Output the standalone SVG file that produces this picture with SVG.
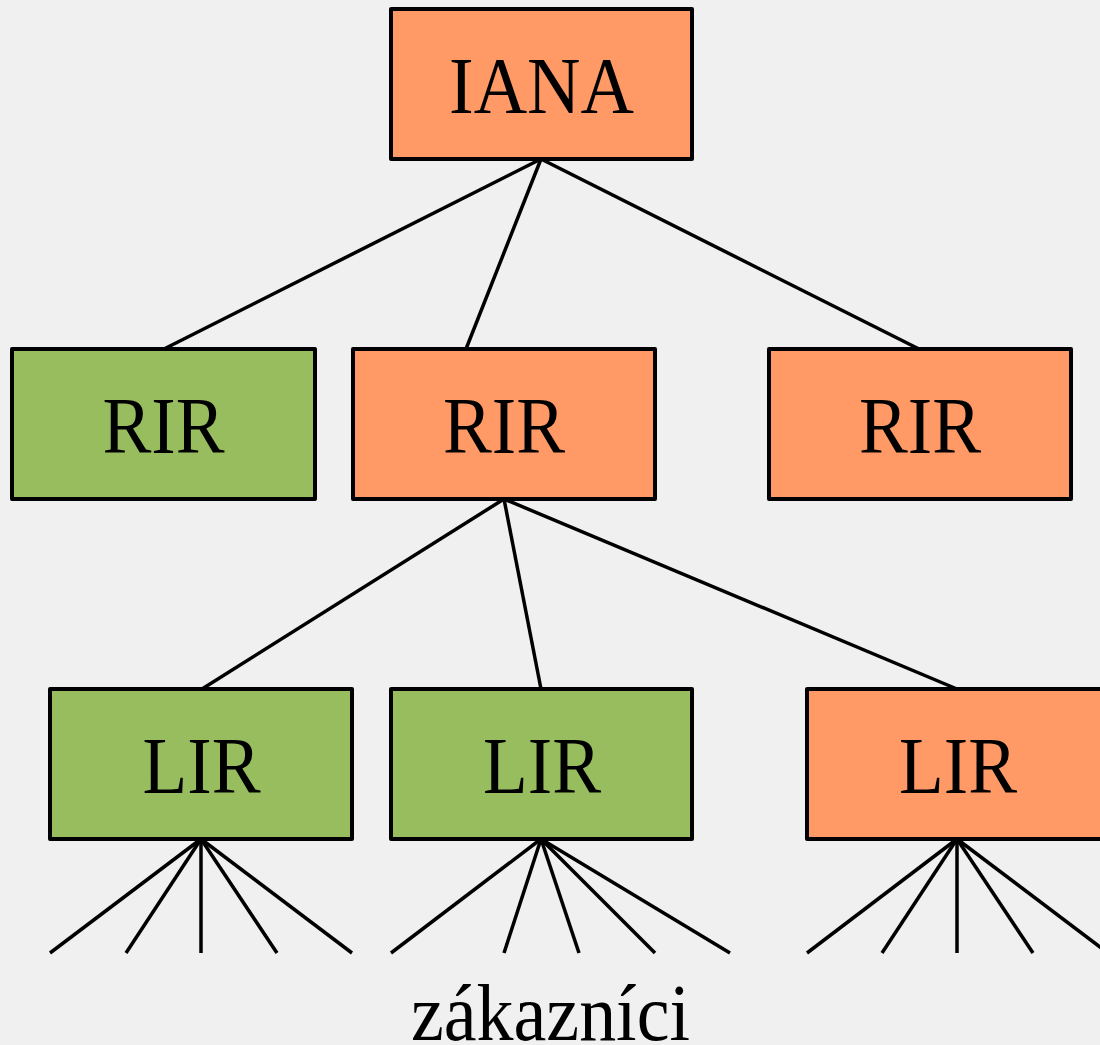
<svg xmlns="http://www.w3.org/2000/svg" width="1100" height="1045" viewBox="0 0 1100 1045">
<style>
.box{stroke:#000;stroke-width:4;stroke-linejoin:round}
.o{fill:#FF9966}
.g{fill:#97BD5F}
.t{font-family:"Liberation Serif","Times New Roman",serif;font-size:80px;fill:#000;text-anchor:middle}
.c line{stroke:#000;stroke-width:3.5}
</style>
<rect width="1100" height="1045" fill="#F0F0F0"/>
<g class="c" id="connectors">
<line x1="541" y1="159" x2="164" y2="349"/>
<line x1="541" y1="159" x2="466" y2="349"/>
<line x1="541" y1="159" x2="919" y2="349"/>
<line x1="504" y1="499" x2="202" y2="689"/>
<line x1="504" y1="499" x2="541" y2="689"/>
<line x1="504" y1="499" x2="957" y2="689"/>
<line x1="201" y1="839" x2="50" y2="953"/>
<line x1="201" y1="839" x2="126" y2="953"/>
<line x1="201" y1="839" x2="201" y2="953"/>
<line x1="201" y1="839" x2="277" y2="953"/>
<line x1="201" y1="839" x2="352" y2="953"/>
<line x1="541" y1="839" x2="391" y2="953"/>
<line x1="541" y1="839" x2="504" y2="953"/>
<line x1="541" y1="839" x2="579" y2="953"/>
<line x1="541" y1="839" x2="655" y2="953"/>
<line x1="541" y1="839" x2="730" y2="953"/>
<line x1="957" y1="839" x2="807" y2="953"/>
<line x1="957" y1="839" x2="882" y2="953"/>
<line x1="957" y1="839" x2="957" y2="953"/>
<line x1="957" y1="839" x2="1033" y2="953"/>
<line x1="957" y1="839" x2="1108" y2="953"/>
</g>
<g id="iana"><rect class="box o" x="391" y="9" width="301" height="150"/><text class="t" x="541.5" y="113" textLength="185" lengthAdjust="spacingAndGlyphs">IANA</text></g>
<g id="rir1"><rect class="box g" x="12" y="349" width="303" height="150"/><text class="t" x="163.5" y="453" textLength="122" lengthAdjust="spacingAndGlyphs">RIR</text></g>
<g id="rir2"><rect class="box o" x="353" y="349" width="302" height="150"/><text class="t" x="504" y="453" textLength="122" lengthAdjust="spacingAndGlyphs">RIR</text></g>
<g id="rir3"><rect class="box o" x="769" y="349" width="302" height="150"/><text class="t" x="920" y="453" textLength="122" lengthAdjust="spacingAndGlyphs">RIR</text></g>
<g id="lir1"><rect class="box g" x="50" y="689" width="302" height="150"/><text class="t" x="201.5" y="793" textLength="118" lengthAdjust="spacingAndGlyphs">LIR</text></g>
<g id="lir2"><rect class="box g" x="391" y="689" width="301" height="150"/><text class="t" x="542" y="793" textLength="118" lengthAdjust="spacingAndGlyphs">LIR</text></g>
<g id="lir3"><rect class="box o" x="807" y="689" width="302" height="150"/><text class="t" x="958" y="793" textLength="118" lengthAdjust="spacingAndGlyphs">LIR</text></g>
<g id="customers"><text class="t" x="550.5" y="1040" textLength="279" lengthAdjust="spacingAndGlyphs">zákazníci</text></g>
</svg>
